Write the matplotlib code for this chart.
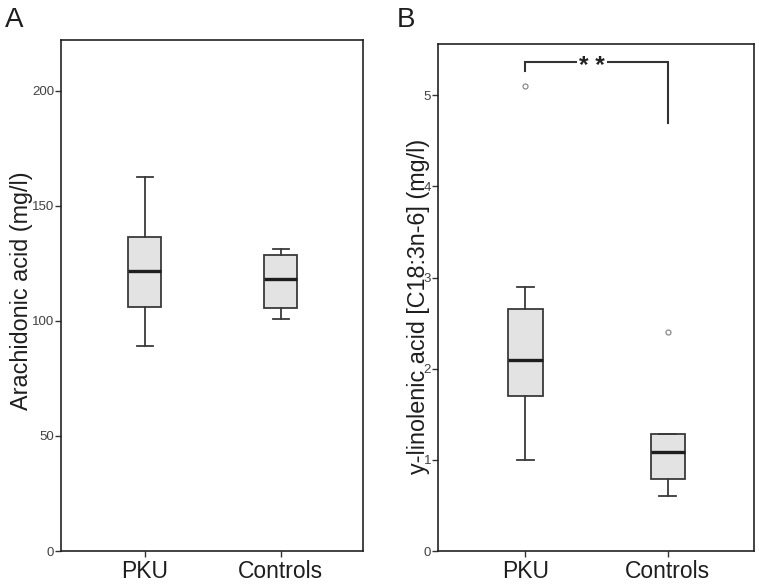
import numpy as np
import matplotlib
matplotlib.use('Agg')
import matplotlib.pyplot as plt

plt.rcParams['font.family'] = ['Liberation Sans', 'DejaVu Sans']

groups = ['PKU', 'Controls']

# panel A: arachidonic acid (mg/l)
a_whislo = [89.0, 101.0]
a_q1 = [106.0, 105.5]
a_med = [121.5, 118.0]
a_q3 = [136.5, 128.5]
a_whishi = [162.5, 131.0]
a_fliers = [[], []]

# panel B: gamma-linolenic acid (mg/l)
b_whislo = [1.0, 0.6]
b_q1 = [1.7, 0.79]
b_med = [2.1, 1.09]
b_q3 = [2.65, 1.28]
b_whishi = [2.9, 1.28]
b_fliers = [[5.1], [2.4]]

a_ticks = [0, 50, 100, 150, 200]
b_ticks = [0, 1, 2, 3, 4, 5]


def make_stats(lo, q1, med, q3, hi, fl):
    out = []
    for i in range(len(groups)):
        out.append(dict(whislo=lo[i], q1=q1[i], med=med[i], q3=q3[i],
                        whishi=hi[i], fliers=fl[i], label=groups[i]))
    return out


def draw_panel(ax, stats, ticks, ylim, ylabel, label_xy):
    edge = '#3a3a3a'
    ax.bxp(stats, positions=[1, 2], widths=0.24, capwidths=0.12,
           patch_artist=True, showfliers=True,
           boxprops=dict(facecolor='#e3e3e3', edgecolor=edge, linewidth=1.3),
           whiskerprops=dict(color=edge, linewidth=1.3),
           capprops=dict(color=edge, linewidth=1.3),
           medianprops=dict(color='#1e1e1e', linewidth=2.4),
           flierprops=dict(marker='o', markersize=3.6, markerfacecolor='white',
                           markeredgecolor='#8a8a8a', markeredgewidth=0.9))
    ax.set_xlim(0.385, 2.605)
    ax.set_ylim(*ylim)
    ax.set_yticks(ticks)
    ax.set_yticklabels([str(t) for t in ticks])
    ax.set_xticks([1, 2])
    ax.set_xticklabels(groups, fontsize=16.5, color='#1e1e1e')
    ax.tick_params(axis='y', labelsize=9.5, labelcolor='#404040', length=4,
                   width=1.0, color='#333333', pad=1)
    ax.tick_params(axis='x', length=4, width=1.0, color='#333333', pad=2.5)
    for s in ax.spines.values():
        s.set_linewidth(1.2)
        s.set_color('#222222')
    ax.set_ylabel(ylabel, fontsize=16.8, color='#1e1e1e')
    ax.yaxis.set_label_coords(*label_xy)


fig = plt.figure(figsize=(7.59, 5.86), dpi=100)
axA = fig.add_axes([0.0804, 0.0597, 0.398, 0.872])
axB = fig.add_axes([0.577, 0.0597, 0.4163, 0.865])

draw_panel(axA, make_stats(a_whislo, a_q1, a_med, a_q3, a_whishi, a_fliers),
           a_ticks, (0, 222), 'Arachidonic acid (mg/l)', (-0.093, 0.51))
draw_panel(axB, make_stats(b_whislo, b_q1, b_med, b_q3, b_whishi, b_fliers),
           b_ticks, (0, 5.56), 'y-linolenic acid [C18:3n-6] (mg/l)', (-0.025, 0.483))

# significance bracket
axB.plot([1, 1, 2, 2], [5.27, 5.36, 5.36, 4.69], color='#333333',
         linewidth=1.5, solid_joinstyle='miter')
axB.text(1.47, 5.31, '* *', ha='center', va='center', fontsize=17.5,
         fontweight='bold', color='#222222',
         bbox=dict(facecolor='white', edgecolor='none', pad=1.5))

fig.text(0.006, 0.954, 'A', fontsize=20, color='#1e1e1e')
fig.text(0.523, 0.954, 'B', fontsize=20, color='#1e1e1e')

fig.savefig('out.png', dpi=100)
